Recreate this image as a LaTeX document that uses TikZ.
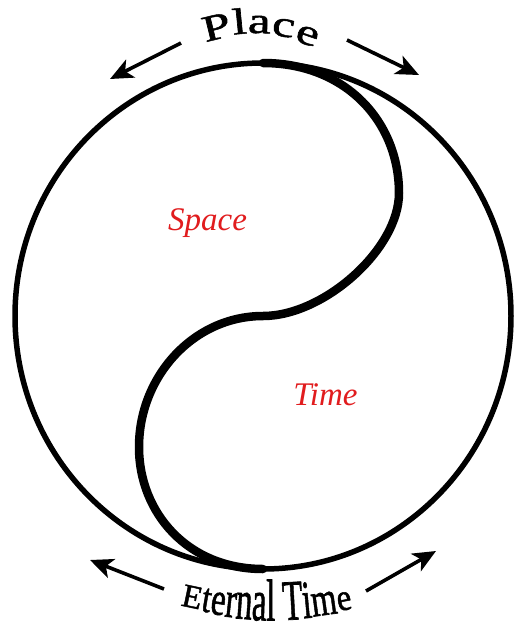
\documentclass[tikz,border=0pt]{standalone}
\usepackage{fontspec}
\setmainfont{Liberation Serif}
\newfontfamily\timesfam{Liberation Serif}
\newfontfamily\timesheavy[FakeBold=1.3]{Liberation Serif}
\usepackage{graphicx}
\usetikzlibrary{arrows.meta}
\definecolor{lblred}{RGB}{225,28,30}
\tikzset{
  rim/.style={line width=5.5pt, draw=black},
  scurve/.style={line width=8.5pt, draw=black, line cap=round},
  flowarrow/.style={line width=3.6pt, -{Stealth[length=23pt,width=20pt,inset=6pt]}},
  topletter/.style={inner sep=0pt, anchor=base, font=\timesheavy\fontsize{37}{37}\selectfont},
  botletter/.style={inner sep=0pt, anchor=base, font=\timesheavy\fontsize{33}{33}\selectfont},
  region/.style={inner sep=0pt, anchor=base, text=lblred, font=\timesfam\itshape\fontsize{33}{33}\selectfont}
}
\begin{document}
\begin{tikzpicture}[x=1pt,y=-1pt]
\useasboundingbox[fill=white] (0,0) rectangle (515,625);
% outer circle
\draw[rim] (263,316) ellipse [x radius=248pt, y radius=253pt];
% S curve
\draw[scurve] (263,63) .. controls (346,63) and (399,122) .. (399,193)
  .. controls (399,249) and (324,316) .. (263,316)
  .. controls (194,316) and (139,376) .. (139,447)
  .. controls (139,513) and (188,569) .. (263,569);
% region labels
\node[region] (space) at (207.5,230) {Space};
\node[region] (time) at (325.5,405) {Time};
% Place
\node[topletter, rotate=13.7] (p1) at (219.2,38.8) {\scalebox{1.38}[1]{P}};
\node[topletter, rotate=5.6] (p2) at (240.5,33.9) {\scalebox{1.38}[1]{l}};
\node[topletter, rotate=-1.6] (p3) at (259.1,33.1) {\scalebox{1.38}[1]{a}};
\node[topletter, rotate=-10.3] (p4) at (281.8,36.2) {\scalebox{1.38}[1]{c}};
\node[topletter, rotate=-18.6] (p5) at (304.5,44.0) {\scalebox{1.38}[1]{e}};
% Eternal Time
\node[botletter, rotate=-11.9] (e1) at (190.1,607.5) {\scalebox{1}[0.998]{E}};
\node[botletter, rotate=-9.8] (e2) at (204.8,611.7) {\scalebox{1}[1.257]{t}};
\node[botletter, rotate=-8.1] (e3) at (216.7,614.6) {\scalebox{1}[1.428]{e}};
\node[botletter, rotate=-6.2] (e4) at (229.5,617.0) {\scalebox{1}[1.576]{r}};
\node[botletter, rotate=-4.2] (e5) at (243.2,618.9) {\scalebox{1}[1.691]{n}};
\node[botletter, rotate=-1.9] (e6) at (258.8,620.2) {\scalebox{1}[1.768]{a}};
\node[botletter, rotate=-0.2] (e7) at (270.7,620.5) {\scalebox{1}[1.789]{l}};
\node[botletter, rotate=3.2] (e8) at (293.6,619.6) {\scalebox{1}[1.734]{T}};
\node[botletter, rotate=5.3] (e9) at (308.3,617.9) {\scalebox{1}[1.633]{i}};
\node[botletter, rotate=7.9] (e10) at (325.7,614.9) {\scalebox{1}[1.449]{m}};
\node[botletter, rotate=10.8] (e11) at (345.9,609.9) {\scalebox{1}[1.145]{e}};
% arrows
\coordinate (tl1) at (181,43); \coordinate (tl2) at (110,79);
\coordinate (tr1) at (347,40); \coordinate (tr2) at (419,75);
\coordinate (bl1) at (164,589); \coordinate (bl2) at (90,560);
\coordinate (br1) at (366,591); \coordinate (br2) at (436,551);
\draw[flowarrow] (tl1) -- (tl2);
\draw[flowarrow] (tr1) -- (tr2);
\draw[flowarrow] (bl1) -- (bl2);
\draw[flowarrow] (br1) -- (br2);
\end{tikzpicture}
\end{document}
